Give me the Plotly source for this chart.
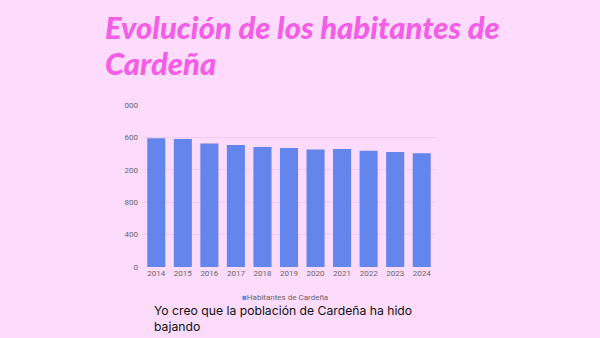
import plotly.graph_objects as go

# Población de Cardeña por año
years = ["2014", "2015", "2016", "2017", "2018", "2019", "2020", "2021", "2022", "2023", "2024"]
habitantes = [1588, 1579, 1526, 1505, 1481, 1468, 1452, 1456, 1435, 1419, 1403]
y_ticks = [0, 400, 800, 1200, 1600, 2000]
series_name = "Habitantes de Cardeña"

BG = "#FCDBFC"
BAR = "#6385EC"
PLOT_W, PLOT_H = 292, 162
LEFT, TOP = 143, 105


def px_x(px):
    return (px - LEFT) / PLOT_W


def px_y(py):
    return 1 - (py - TOP) / PLOT_H


fig = go.Figure()
fig.add_trace(go.Bar(
    x=years, y=habitantes, name=series_name, showlegend=False,
    marker=dict(color=BAR, line=dict(width=0)),
))

fig.update_layout(
    width=600, height=338,
    margin=dict(l=LEFT, r=600 - LEFT - PLOT_W, t=TOP, b=338 - TOP - PLOT_H),
    paper_bgcolor=BG, plot_bgcolor=BG,
    bargap=0.32,
    xaxis=dict(type="category", showgrid=False, showline=False, ticks="",
               tickfont=dict(family="Roboto", size=8, color="#666666")),
    yaxis=dict(range=[0, 2000], tickvals=y_ticks, showgrid=True, gridcolor="#F2CCF2",
               gridwidth=1, zeroline=False, showline=False, ticks="",
               tickfont=dict(family="Roboto", size=8, color="#666666"), ticklabelstandoff=4),
    font=dict(family="Roboto"),
)

# the chart image is cut on its left edge, hiding the leading digit of the labels
fig.add_shape(type="rect", xref="paper", yref="paper", x0=-0.6, x1=px_x(124.6), y0=-0.1, y1=1.08,
              fillcolor=BG, line=dict(width=0), layer="above")

# legend entry
fig.add_annotation(
    text=f"<span style='color:{BAR}'>■</span>{series_name}", xref="paper", yref="paper",
    x=px_x(285), y=px_y(297), xanchor="center", yanchor="middle", showarrow=False,
    font=dict(family="Roboto", size=8, color="#666666"),
)

title_font = dict(family="Lato", size=31, color="#F45DE6", weight=900, style="italic")
for line, yc in [("Evolución de los habitantes de", 27), ("Cardeña", 63)]:
    fig.add_annotation(
        text=line, xref="paper", yref="paper", x=px_x(103), y=px_y(yc),
        xanchor="left", yanchor="middle", showarrow=False, font=title_font,
    )

fig.add_annotation(
    text="Yo creo que la población de Cardeña ha hido<br>bajando", xref="paper", yref="paper",
    x=px_x(153), y=px_y(318.5), xanchor="left", yanchor="middle", align="left",
    showarrow=False, borderpad=0,
    font=dict(family="Inter", size=12.2, color="#111111"),
)

fig.write_html("out.html")
